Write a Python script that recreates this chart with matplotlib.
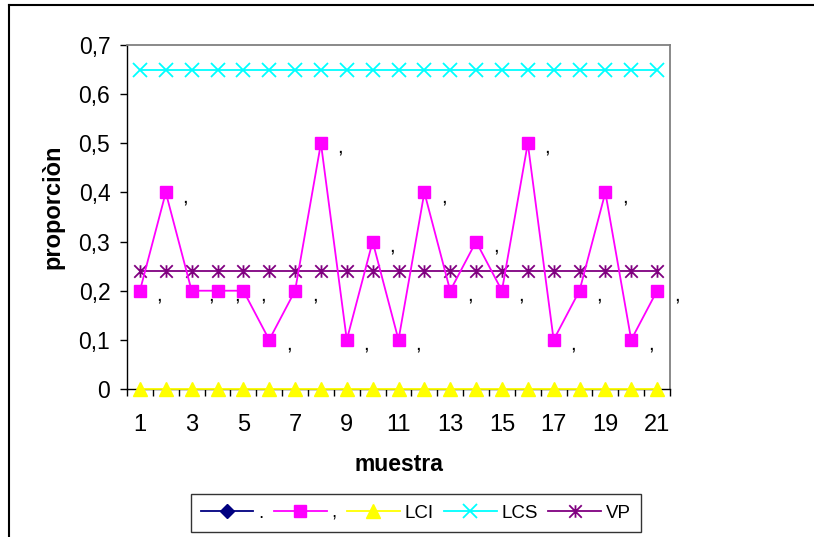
import matplotlib
matplotlib.use("Agg")
import matplotlib.pyplot as plt
from matplotlib.lines import Line2D
from matplotlib.path import Path
from matplotlib.ticker import FuncFormatter, FixedLocator

plt.rcParams['font.family'] = ['Liberation Sans', 'DejaVu Sans']

# muestras y proporciones
muestra = list(range(1, 22))
punto = [float('nan')] * 21  # serie "." sin valores
proporcion = [0.2, 0.4, 0.2, 0.2, 0.2, 0.1, 0.2, 0.5, 0.1, 0.3, 0.1,
              0.4, 0.2, 0.3, 0.2, 0.5, 0.1, 0.2, 0.4, 0.1, 0.2]
lci = [0.0] * 21
lcs = [0.65] * 21
vp = [0.24] * 21
etiqueta = ","

# asterisco tipo Excel: X con barra vertical
star = Path([(0, -1), (0, 1), (-1, -1), (1, 1), (-1, 1), (1, -1)],
            [Path.MOVETO, Path.LINETO, Path.MOVETO, Path.LINETO,
             Path.MOVETO, Path.LINETO])

fig = plt.figure(figsize=(8.14, 5.37), dpi=100)
ax = fig.add_axes([127 / 814, 1 - 389 / 537, (670 - 127) / 814, (389 - 45) / 537])

ax.plot(muestra, punto, color='#000080', marker='D',
        markersize=7, lw=1.3, label='.')
ax.plot(muestra, proporcion, color='#FF00FF', marker='s', markersize=9,
        lw=1.3, label=',', zorder=4)
ax.plot(muestra, lci, color='#FFFF00', marker='^', markersize=10,
        lw=1.3, label='LCI', clip_on=False, zorder=3)
ax.plot(muestra, lcs, color='#00FFFF', marker='x', markersize=10,
        markeredgewidth=1.3, lw=1.3, label='LCS')
ax.plot(muestra, vp, color='#800080', marker=star, markersize=9,
        markeredgewidth=1.3, lw=1.3, label='VP', zorder=3)

for x, y in zip(muestra, proporcion):
    ax.annotate(etiqueta, (x, y), xytext=(14, -3), textcoords='offset points',
                ha='center', va='center', fontsize=15, annotation_clip=False)

ax.set_xlim(0.5, 21.5)
ax.set_ylim(0, 0.7)

ax.yaxis.set_major_locator(FixedLocator([i / 10 for i in range(8)]))
ax.yaxis.set_major_formatter(FuncFormatter(lambda v, p: f"{v:.1f}".replace('.', ',') if v else "0"))
ax.xaxis.set_major_locator(FixedLocator(muestra[::2]))
ax.xaxis.set_minor_locator(FixedLocator([m + 0.5 for m in range(0, 22)]))
ax.tick_params(axis='x', which='major', length=0, pad=18, labelsize=17)
ax.tick_params(axis='x', which='minor', length=5, direction='out', width=1)
ax.tick_params(axis='y', length=5, direction='out', width=1, pad=7, labelsize=16.5)

for s in ('top', 'right'):
    ax.spines[s].set_color('#808080')
    ax.spines[s].set_linewidth(1.3)
for s in ('left', 'bottom'):
    ax.spines[s].set_color('black')
    ax.spines[s].set_linewidth(1.0)

ax.set_xlabel('muestra', fontsize=16.5, fontweight='bold', labelpad=12)
ax.set_ylabel('proporciòn', fontsize=17, fontweight='bold', labelpad=10)
ax.yaxis.label.set_y(0.53)

leg = fig.legend(loc='center', bbox_to_anchor=(416 / 814, 1 - 513 / 537), ncol=5,
                 fontsize=13.5, frameon=True, fancybox=False, handlelength=2.8,
                 handletextpad=0.27, columnspacing=0.55, borderpad=0.55,
                 borderaxespad=0)
leg.get_frame().set_edgecolor('black')
leg.get_frame().set_linewidth(1.0)

# borde del area del grafico
fig.add_artist(Line2D([9 / 814, 1], [1 - 5 / 537] * 2, color='black', lw=1.5))
fig.add_artist(Line2D([9 / 814] * 2, [0, 1 - 5 / 537], color='black', lw=1.5))

fig.savefig('out.png', dpi=100)
